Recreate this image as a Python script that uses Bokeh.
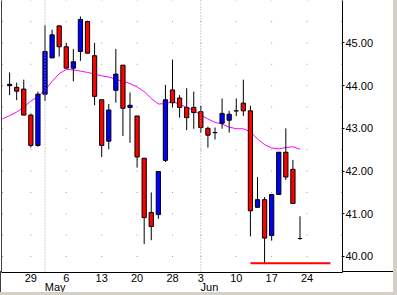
from bokeh.plotting import figure
from bokeh.models import LinearAxis, FixedTicker, Range1d, Span, NumeralTickFormatter, ColumnDataSource
from bokeh.embed import file_html
from bokeh.resources import INLINE

# ---- data ----
dates = ["2002-04-24", "2002-04-25", "2002-04-26", "2002-04-29", "2002-04-30",
         "2002-05-01", "2002-05-02", "2002-05-03", "2002-05-06", "2002-05-07",
         "2002-05-08", "2002-05-09", "2002-05-10", "2002-05-13", "2002-05-14",
         "2002-05-15", "2002-05-16", "2002-05-17", "2002-05-20", "2002-05-21",
         "2002-05-22", "2002-05-23", "2002-05-24", "2002-05-28", "2002-05-29",
         "2002-05-30", "2002-05-31", "2002-06-03", "2002-06-04", "2002-06-05",
         "2002-06-06", "2002-06-07", "2002-06-10", "2002-06-11", "2002-06-12",
         "2002-06-13", "2002-06-14", "2002-06-17", "2002-06-18", "2002-06-19",
         "2002-06-20", "2002-06-21"]
opens = [44.00, 43.96, 43.92, 43.31, 42.60, 43.80, 44.65, 45.40, 44.91, 44.41,
         44.80, 45.50, 44.70, 43.67, 42.70, 43.89, 44.48, 43.49, 43.29, 42.30,
         41.03, 40.98, 42.25, 43.90, 43.71, 43.49, 43.49, 43.39, 43.00, 42.90,
         43.12, 43.19, 43.41, 43.59, 43.41, 41.15, 41.33, 40.49, 41.45, 42.44,
         42.04, 40.42]
highs = [44.31, 44.07, 44.14, 43.35, 43.86, 45.41, 45.31, 45.40, 45.00, 44.86,
         45.62, 45.52, 45.00, 43.67, 43.57, 44.86, 44.48, 43.84, 43.29, 42.30,
         41.50, 41.99, 44.02, 44.61, 43.78, 43.94, 43.86, 43.53, 43.04, 43.02,
         43.70, 43.41, 43.70, 44.14, 43.53, 41.86, 41.39, 41.45, 42.44, 43.00,
         42.26, 40.94]
lows = [43.78, 43.66, 43.31, 42.55, 42.57, 43.64, 44.65, 44.68, 44.41, 44.10,
        44.58, 44.76, 43.54, 42.33, 42.51, 43.60, 42.82, 42.66, 42.08, 40.29,
        40.38, 40.88, 42.21, 43.49, 43.25, 42.96, 42.99, 42.90, 42.55, 42.74,
        42.99, 42.90, 43.29, 43.29, 40.47, 41.15, 39.82, 40.37, 41.45, 41.79,
        41.24, 40.39]
closes = [44.03, 43.87, 43.31, 42.60, 43.80, 44.80, 45.19, 44.91, 44.41, 44.56,
          45.55, 44.76, 43.75, 42.60, 43.43, 44.27, 43.47, 43.54, 42.33, 40.91,
          40.70, 41.99, 43.67, 43.60, 43.49, 43.25, 43.37, 43.02, 42.84, 42.90,
          43.35, 43.33, 43.41, 43.41, 41.07, 41.33, 40.43, 41.45, 42.44, 41.86,
          41.24, 40.42]
ma_values = [43.22, 43.30, 43.38, 43.50, 43.64, 43.74, 43.90, 44.10, 44.28, 44.38,
             44.37, 44.34, 44.31, 44.27, 44.23, 44.20, 44.15, 44.10, 44.05, 43.97,
             43.86, 43.70, 43.57, 43.58, 43.62, 43.57, 43.49, 43.42, 43.31, 43.22,
             43.14, 43.10, 43.03, 42.99, 42.99, 42.92, 42.75, 42.62, 42.54, 42.52,
             42.55, 42.57, 42.51]
ma_start = -1  # moving average starts one session before the first bar shown

day_tick_idx = [3, 8, 13, 18, 23, 27, 32, 37, 42]
day_tick_labels = ["29", "6", "13", "20", "28", "3", "10", "17", "24"]
month_tick_idx = [5, 27]
month_labels = ["May", "Jun"]
price_ticks = [40, 41, 42, 43, 44, 45]
grid_levels = [40.0, 40.5, 41.0, 41.5, 42.0, 42.5, 43.0, 43.5, 44.0, 44.5, 45.0, 45.5, 46.0]
support_level = 39.84
support_from, support_to = 34, 45.3

# ---- figure ----
FONT = "Liberation Sans"
X0, X1 = -1.143, 47.0
FRAME_W = 337
p = figure(width=397, height=295, output_backend="svg", toolbar_location=None,
           x_range=Range1d(X0, X1), y_range=Range1d(39.624, 45.994),
           x_axis_location="below", y_axis_location="right",
           min_border_left=1, min_border_right=55, min_border_top=0, min_border_bottom=21)
p.background_fill_color = "white"
p.border_fill_color = None
p.outline_line_color = None
p.grid.visible = False
# grey window frame on the right and bottom; base line continuing under the price scale,
# and the dark left edge continuing under the date scale
p.styles = {
    "border-right": "4px solid #d4d0c8",
    "border-bottom": "3px solid #d4d0c8",
    "background-color": "white",
    "background-image": "linear-gradient(#000000, #000000), linear-gradient(#404040, #404040)",
    "background-size": "55px 1px, 1px 21px",
    "background-position": "338px 271px, 0px 271px",
    "background-repeat": "no-repeat",
}

n = len(dates)
idx = list(range(n))
up = [c > o for o, c in zip(opens, closes)]
src = ColumnDataSource(dict(
    x=idx, high=highs, low=lows,
    top=[max(o, c) for o, c in zip(opens, closes)],
    bottom=[min(o, c) for o, c in zip(opens, closes)],
    color=["#0000ff" if u else "#ff0000" for u in up],
))

# dotted grid: dots at week columns / edges on each half-point level
dot_cols = [-1] + day_tick_idx + [46.85]
gx, gy = [], []
for lv in grid_levels:
    for c in dot_cols:
        gx.append(c)
        gy.append(lv)
p.rect(gx, gy, width=1, height=1, width_units="screen", height_units="screen",
       fill_color="#9a9a9a", line_color=None)
for m in month_tick_idx:
    p.add_layout(Span(location=m, dimension="height", line_color="#a0a0a0",
                      line_dash="1 2", line_width=1))

# moving average
p.line([ma_start + k for k in range(len(ma_values))], ma_values,
       line_color="#ff00ff", line_width=1)

# candles
p.segment(x0="x", y0="low", x1="x", y1="high", source=src, line_color="black", line_width=1)
p.vbar(x="x", top="top", bottom="bottom", width=0.6, source=src,
       fill_color="color", line_color="black", line_width=1)

# support line
p.line([support_from, support_to], [support_level, support_level], line_color="#ff0000", line_width=2)

# axes
def plain(ax):
    ax.major_tick_out = 0
    ax.major_tick_in = 0
    ax.minor_tick_out = 0
    ax.minor_tick_in = 0
    ax.major_label_text_font = FONT
    ax.major_label_text_font_size = "11px"
    ax.major_label_text_color = "black"

ya = p.yaxis[0]
plain(ya)
ya.ticker = FixedTicker(ticks=price_ticks)
ya.formatter = NumeralTickFormatter(format="0.00")
ya.axis_line_color = "black"
ya.major_tick_out = 2
ya.major_label_standoff = 1

xa = p.xaxis[0]
plain(xa)
xa.ticker = FixedTicker(ticks=day_tick_idx)
xa.major_label_overrides = {t: l for t, l in zip(day_tick_idx, day_tick_labels)}
xa.axis_line_color = "black"
xa.major_label_standoff = 1

# month names start at the month's first session: shift the centred label by half its width
px_per_day = FRAME_W / (X1 - X0)
half_w = {"May": 10.0, "Jun": 8.5}
month_pos = [t + half_w[l] / px_per_day for t, l in zip(month_tick_idx, month_labels)]
mo_axis = LinearAxis(ticker=FixedTicker(ticks=month_pos),
                     major_label_overrides={t: l for t, l in zip(month_pos, month_labels)})
plain(mo_axis)
mo_axis.axis_line_color = None
mo_axis.major_label_standoff = -4
p.add_layout(mo_axis, "below")

left_axis = LinearAxis(ticker=FixedTicker(ticks=[]))
plain(left_axis)
left_axis.axis_line_color = "#404040"
left_axis.major_label_standoff = 0
left_axis.major_label_text_font_size = "0px"
p.add_layout(left_axis, "left")

open("out.html", "w").write(file_html(p, INLINE))
